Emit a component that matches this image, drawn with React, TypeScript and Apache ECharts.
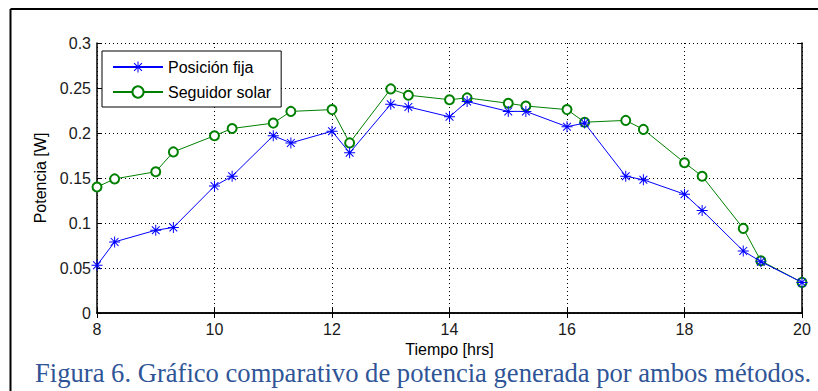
import React, { useEffect, useRef } from "react";
import * as echarts from "echarts";

const hours = [8, 8.3, 9, 9.3, 10, 10.3, 11, 11.3, 12, 12.3, 13, 13.3, 14, 14.3, 15, 15.3, 16, 16.3, 17, 17.3, 18, 18.3, 19, 19.3, 20];
const posicionFija = [0.053, 0.079, 0.092, 0.095, 0.141, 0.152, 0.197, 0.189, 0.202, 0.178, 0.232, 0.229, 0.218, 0.235, 0.224, 0.224, 0.207, 0.211, 0.152, 0.148, 0.132, 0.114, 0.069, 0.057, 0.034];
const seguidorSolar = [0.14, 0.149, 0.157, 0.179, 0.197, 0.205, 0.211, 0.224, 0.226, 0.189, 0.249, 0.242, 0.237, 0.239, 0.233, 0.23, 0.226, 0.212, 0.214, 0.204, 0.167, 0.152, 0.094, 0.058, 0.034];
const yTicks = ["0", "0.05", "0.1", "0.15", "0.2", "0.25", "0.3"];
const seriesNames = ["Posición fija", "Seguidor solar"];
const xTitle = "Tiempo [hrs]";
const yTitle = "Potencia [W]";
const caption = "Figura 6. Gráfico comparativo de potencia generada por ambos métodos.";

const asterisk =
  "path://M-0.45,-5L0.45,-5L0.45,5L-0.45,5Z M-5,-0.45L5,-0.45L5,0.45L-5,0.45Z " +
  "M-3.85,-3.21L-3.21,-3.85L3.85,3.21L3.21,3.85Z M3.21,-3.85L3.85,-3.21L-3.21,3.85L-3.85,3.21Z";

const labelFont = { fontFamily: "Liberation Sans, Arial, sans-serif", fontSize: 16, color: "#1a1a1a" };

export default function App() {
  const ref = useRef<HTMLDivElement>(null);
  useEffect(() => {
    if (!ref.current) return;
    const chart = echarts.init(ref.current, null, { renderer: "svg" });
    const toPairs = (vals: number[]) => hours.map((h, i) => [h, vals[i]]);
    const tickStyle = { show: true, inside: true, length: 5, lineStyle: { color: "#000", width: 1 } };
    const axisLine = { show: true, lineStyle: { color: "#000", width: 1.5 } };
    chart.setOption({
      animation: false,
      backgroundColor: "#fff",
      grid: { left: 97, right: 16, top: 43, bottom: 78, containLabel: false },
      legend: {
        orient: "vertical",
        left: 102,
        top: 51,
        padding: [8, 10, 7, 10],
        itemGap: 9,
        itemWidth: 50,
        itemHeight: 14,
        backgroundColor: "#fff",
        borderColor: "#000",
        borderWidth: 1,
        borderRadius: 0,
        textStyle: { ...labelFont, color: "#000" },
        data: seriesNames,
      },
      xAxis: [
        {
          type: "value",
          min: 8,
          max: 20,
          interval: 2,
          position: "bottom",
          name: xTitle,
          nameLocation: "middle",
          nameGap: 28,
          nameTextStyle: { ...labelFont, color: "#000" },
          axisLine,
          axisTick: tickStyle,
          axisLabel: { ...labelFont, margin: 8 },
          splitLine: { show: true, lineStyle: { color: "#000", type: [1, 3], width: 1 } },
        },
        {
          type: "value",
          min: 8,
          max: 20,
          interval: 2,
          position: "top",
          axisLine,
          axisTick: tickStyle,
          axisLabel: { show: false },
          splitLine: { show: false },
        },
      ],
      yAxis: [
        {
          type: "value",
          min: 0,
          max: 0.3,
          interval: 0.05,
          position: "left",
          name: yTitle,
          nameLocation: "middle",
          nameGap: 48,
          nameTextStyle: { ...labelFont, color: "#000" },
          axisLine,
          axisTick: tickStyle,
          axisLabel: {
            ...labelFont,
            margin: 6,
            formatter: (v: number) => yTicks[Math.round(v / 0.05)] ?? String(v),
          },
          splitLine: { show: true, lineStyle: { color: "#000", type: [1, 3], width: 1 } },
        },
        {
          type: "value",
          min: 0,
          max: 0.3,
          interval: 0.05,
          position: "right",
          axisLine,
          axisTick: tickStyle,
          axisLabel: { show: false },
          splitLine: { show: false },
        },
      ],
      series: [
        {
          name: seriesNames[0],
          type: "line",
          data: toPairs(posicionFija),
          symbol: asterisk,
          symbolSize: 11,
          lineStyle: { color: "#0000ff", width: 1 },
          itemStyle: { color: "#0000ff" },
          z: 3,
        },
        {
          name: seriesNames[1],
          type: "line",
          data: toPairs(seguidorSolar),
          symbol: "emptyCircle",
          symbolSize: 9,
          lineStyle: { color: "#008000", width: 1 },
          itemStyle: { color: "#008000", borderWidth: 1 },
          z: 2,
        },
      ],
      graphic: [
        { type: "line", shape: { x1: 10.5, y1: 9, x2: 818, y2: 9 }, style: { stroke: "#000", lineWidth: 2 } },
        { type: "line", shape: { x1: 10.5, y1: 9, x2: 10.5, y2: 391 }, style: { stroke: "#000", lineWidth: 2 } },
        {
          type: "text",
          left: 35,
          top: 359,
          style: {
            text: caption,
            fill: "#2F5597",
            font: "26.6px 'Liberation Serif', 'Times New Roman', serif",
          },
        },
      ],
    });
    return () => chart.dispose();
  }, []);
  return <div ref={ref} style={{ position: "fixed", left: 0, top: 0, width: 818, height: 391 }} />;
}
